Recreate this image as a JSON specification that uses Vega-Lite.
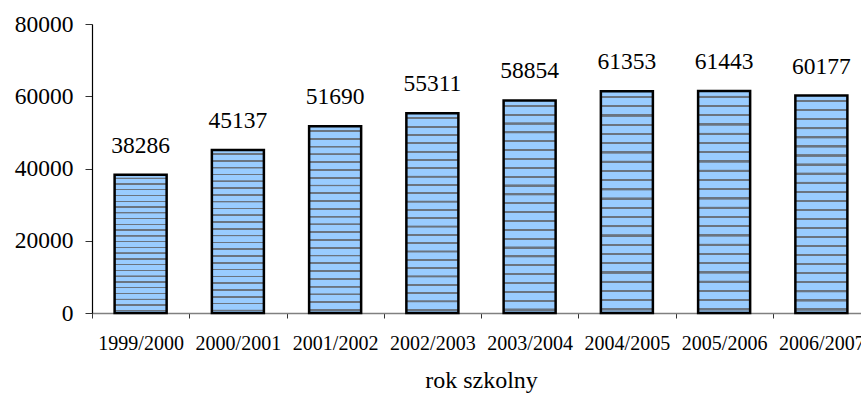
{
  "$schema": "https://vega.github.io/schema/vega-lite/v6.json",
  "width": 778,
  "height": 289,
  "autosize": "none",
  "padding": {"left": 92, "top": 24, "right": -9, "bottom": 83},
  "background": "white",
  "config": {"view": {"stroke": null}, "font": "'Liberation Serif', serif", "text": {"font": "'Liberation Serif', serif"}},
  "data": {"values": [
    {"rok": "1999/2000", "n": 38286},
    {"rok": "2000/2001", "n": 45137},
    {"rok": "2001/2002", "n": 51690},
    {"rok": "2002/2003", "n": 55311},
    {"rok": "2003/2004", "n": 58854},
    {"rok": "2004/2005", "n": 61353},
    {"rok": "2005/2006", "n": 61443},
    {"rok": "2006/2007", "n": 60177}
  ]},
  "encoding": {
    "x": {"field": "rok", "type": "nominal", "sort": null,
      "scale": {"paddingInner": 0, "paddingOuter": 0},
      "axis": {"title": "rok szkolny", "labelAngle": 0, "tickBand": "extent",
        "labelFont": "'Liberation Serif', serif", "labelFontSize": 20, "labelColor": "#000",
        "labelPadding": 15, "tickSize": 5, "tickColor": "#333", "domainColor": "#808080",
        "domainWidth": 1.5, "titleFont": "'Liberation Serif', serif", "titleFontSize": 24,
        "titleFontWeight": "normal", "titleColor": "#000", "titlePadding": 15, "labelOverlap": false}},
    "y": {"field": "n", "type": "quantitative",
      "scale": {"domain": [0, 80000]},
      "axis": {"title": null, "values": [0, 20000, 40000, 60000, 80000], "grid": false,
        "format": "d", "labelFont": "'Liberation Serif', serif", "labelFontSize": 23.5, "labelColor": "#000",
        "labelPadding": 12, "tickSize": 7, "tickColor": "#333", "domainColor": "#000", "domainWidth": 1.2}}
  },
  "layer": [
    {"mark": {"type": "bar", "width": {"band": 0.535}, "stroke": "#000", "strokeWidth": 2.5,
      "fill": {"gradient": "linear", "x1": 0, "y1": 0, "x2": 0, "y2": 1, "stops": [
        {"offset": 0, "color": "#99CCFF"},
        {"offset": 0.020, "color": "#99CCFF"}, {"offset": 0.021, "color": "#6a7480"}, {"offset": 0.030, "color": "#6a7480"}, {"offset": 0.031, "color": "#99CCFF"},
        {"offset": 0.0617, "color": "#99CCFF"}, {"offset": 0.0627, "color": "#6a7480"}, {"offset": 0.0717, "color": "#6a7480"}, {"offset": 0.0727, "color": "#99CCFF"},
        {"offset": 0.1033, "color": "#99CCFF"}, {"offset": 0.1043, "color": "#6a7480"}, {"offset": 0.1133, "color": "#6a7480"}, {"offset": 0.1143, "color": "#99CCFF"},
        {"offset": 0.145, "color": "#99CCFF"}, {"offset": 0.146, "color": "#6a7480"}, {"offset": 0.155, "color": "#6a7480"}, {"offset": 0.156, "color": "#99CCFF"},
        {"offset": 0.1867, "color": "#99CCFF"}, {"offset": 0.1877, "color": "#6a7480"}, {"offset": 0.1967, "color": "#6a7480"}, {"offset": 0.1977, "color": "#99CCFF"},
        {"offset": 0.2283, "color": "#99CCFF"}, {"offset": 0.2293, "color": "#6a7480"}, {"offset": 0.2383, "color": "#6a7480"}, {"offset": 0.2393, "color": "#99CCFF"},
        {"offset": 0.27, "color": "#99CCFF"}, {"offset": 0.271, "color": "#6a7480"}, {"offset": 0.280, "color": "#6a7480"}, {"offset": 0.281, "color": "#99CCFF"},
        {"offset": 0.3117, "color": "#99CCFF"}, {"offset": 0.3127, "color": "#6a7480"}, {"offset": 0.3217, "color": "#6a7480"}, {"offset": 0.3227, "color": "#99CCFF"},
        {"offset": 0.3533, "color": "#99CCFF"}, {"offset": 0.3543, "color": "#6a7480"}, {"offset": 0.3633, "color": "#6a7480"}, {"offset": 0.3643, "color": "#99CCFF"},
        {"offset": 0.395, "color": "#99CCFF"}, {"offset": 0.396, "color": "#6a7480"}, {"offset": 0.405, "color": "#6a7480"}, {"offset": 0.406, "color": "#99CCFF"},
        {"offset": 0.4367, "color": "#99CCFF"}, {"offset": 0.4377, "color": "#6a7480"}, {"offset": 0.4467, "color": "#6a7480"}, {"offset": 0.4477, "color": "#99CCFF"},
        {"offset": 0.4783, "color": "#99CCFF"}, {"offset": 0.4793, "color": "#6a7480"}, {"offset": 0.4883, "color": "#6a7480"}, {"offset": 0.4893, "color": "#99CCFF"},
        {"offset": 0.52, "color": "#99CCFF"}, {"offset": 0.521, "color": "#6a7480"}, {"offset": 0.530, "color": "#6a7480"}, {"offset": 0.531, "color": "#99CCFF"},
        {"offset": 0.5617, "color": "#99CCFF"}, {"offset": 0.5627, "color": "#6a7480"}, {"offset": 0.5717, "color": "#6a7480"}, {"offset": 0.5727, "color": "#99CCFF"},
        {"offset": 0.6033, "color": "#99CCFF"}, {"offset": 0.6043, "color": "#6a7480"}, {"offset": 0.6133, "color": "#6a7480"}, {"offset": 0.6143, "color": "#99CCFF"},
        {"offset": 0.645, "color": "#99CCFF"}, {"offset": 0.646, "color": "#6a7480"}, {"offset": 0.655, "color": "#6a7480"}, {"offset": 0.656, "color": "#99CCFF"},
        {"offset": 0.6867, "color": "#99CCFF"}, {"offset": 0.6877, "color": "#6a7480"}, {"offset": 0.6967, "color": "#6a7480"}, {"offset": 0.6977, "color": "#99CCFF"},
        {"offset": 0.7283, "color": "#99CCFF"}, {"offset": 0.7293, "color": "#6a7480"}, {"offset": 0.7383, "color": "#6a7480"}, {"offset": 0.7393, "color": "#99CCFF"},
        {"offset": 0.77, "color": "#99CCFF"}, {"offset": 0.771, "color": "#6a7480"}, {"offset": 0.780, "color": "#6a7480"}, {"offset": 0.781, "color": "#99CCFF"},
        {"offset": 0.8117, "color": "#99CCFF"}, {"offset": 0.8127, "color": "#6a7480"}, {"offset": 0.8217, "color": "#6a7480"}, {"offset": 0.8227, "color": "#99CCFF"},
        {"offset": 0.8533, "color": "#99CCFF"}, {"offset": 0.8543, "color": "#6a7480"}, {"offset": 0.8633, "color": "#6a7480"}, {"offset": 0.8643, "color": "#99CCFF"},
        {"offset": 0.895, "color": "#99CCFF"}, {"offset": 0.896, "color": "#6a7480"}, {"offset": 0.905, "color": "#6a7480"}, {"offset": 0.906, "color": "#99CCFF"},
        {"offset": 0.9367, "color": "#99CCFF"}, {"offset": 0.9377, "color": "#6a7480"}, {"offset": 0.9467, "color": "#6a7480"}, {"offset": 0.9477, "color": "#99CCFF"},
        {"offset": 0.9783, "color": "#99CCFF"}, {"offset": 0.9793, "color": "#6a7480"}, {"offset": 0.9883, "color": "#6a7480"}, {"offset": 0.9893, "color": "#99CCFF"},
        {"offset": 1, "color": "#99CCFF"}
      ]}}},
    {"mark": {"type": "text", "baseline": "alphabetic", "dy": -22, "font": "'Liberation Serif', serif", "fontSize": 23.5, "color": "#000"},
      "encoding": {"text": {"field": "n", "type": "quantitative", "format": "d"}}}
  ]
}
